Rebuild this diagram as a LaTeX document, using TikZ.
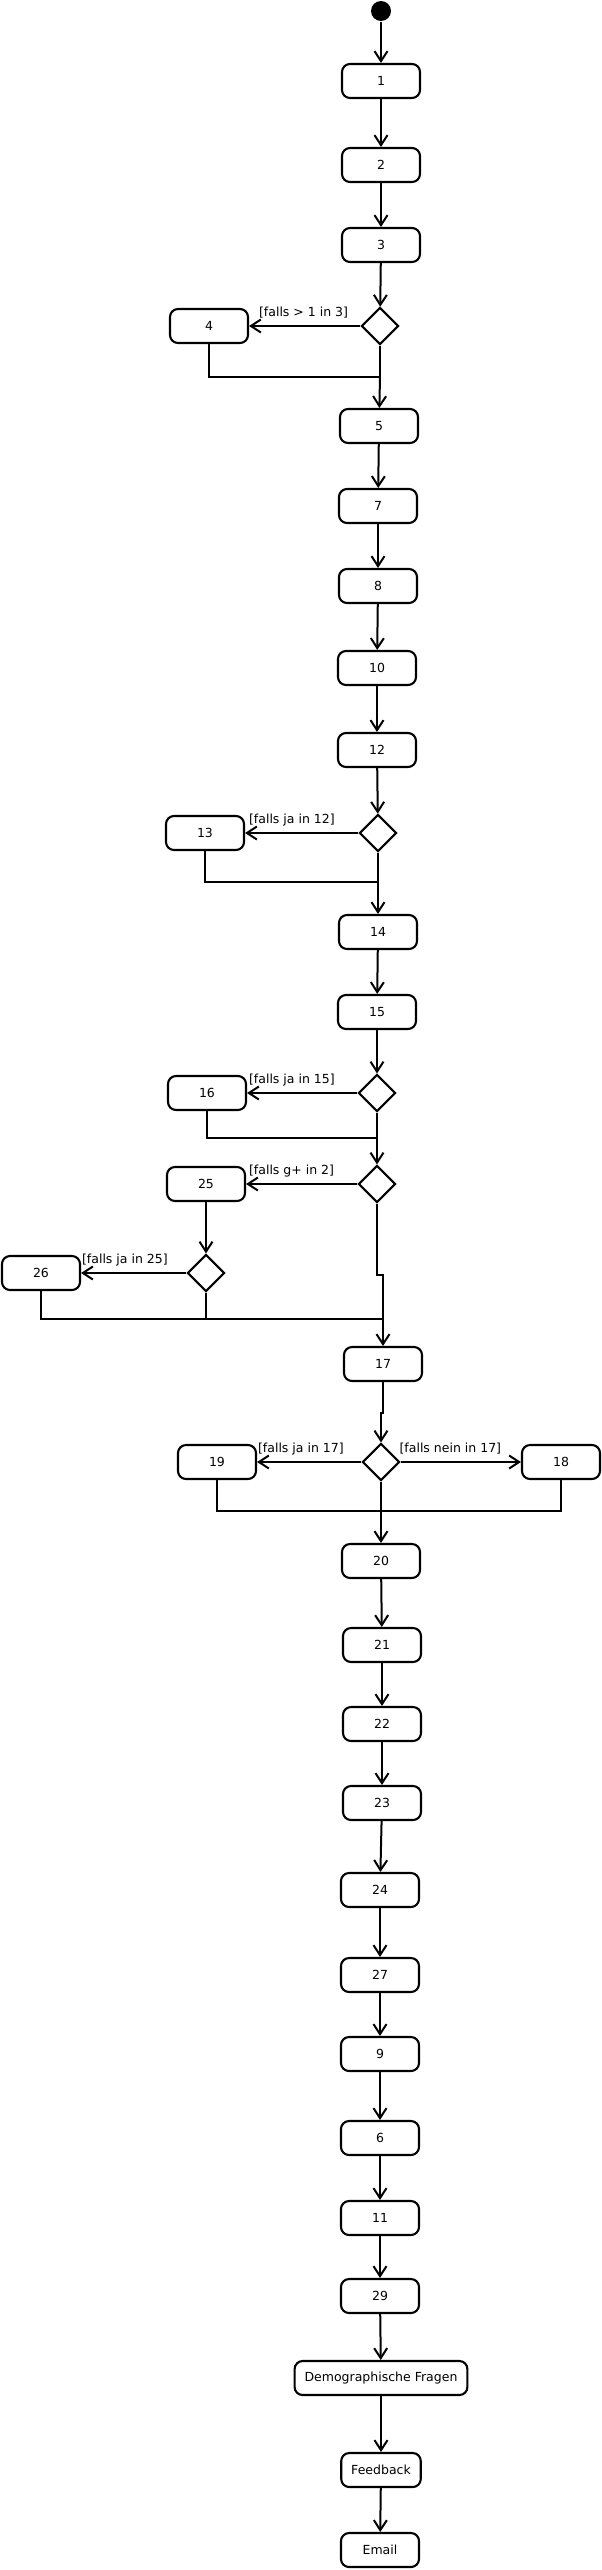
\documentclass[tikz,border=0pt]{standalone}
\usepackage{fontspec}
\setmainfont{DejaVu Sans}
\usetikzlibrary{arrows.meta}
\usetikzlibrary{shapes.geometric}

\begin{document}
\begin{tikzpicture}[x=1pt,y=-1pt,line width=2.1pt,
  >={Straight Barb[length=10pt,width=13pt]},
  activity/.style={draw,rounded corners=8pt,minimum width=78pt,minimum height=34pt,inner xsep=10pt,inner ysep=0pt,font=\fontsize{12.5pt}{15pt}\selectfont},
  choice/.style={draw,diamond,minimum width=37pt,minimum height=37pt,inner sep=0pt},
  guard/.style={anchor=base west,inner sep=0pt,font=\fontsize{12.5pt}{15pt}\selectfont},
  flow/.style={->,line width=2pt}]
\useasboundingbox (0,0) rectangle (602,2570);
\node[fill,circle,minimum size=20pt,inner sep=0pt] (start) at (381,11) {};
\node[activity] (n1) at (381,81) {1};
\node[activity] (n2) at (381,165) {2};
\node[activity] (n3) at (381,245) {3};
\node[choice] (d3) at (380,326) {};
\node[activity] (n4) at (209,326) {4};
\coordinate (j3) at (380,377);
\node[activity] (n5) at (379,426) {5};
\node[activity] (n7) at (378,506) {7};
\node[activity] (n8) at (378,586) {8};
\node[activity] (n10) at (377,668) {10};
\node[activity] (n12) at (377,750) {12};
\node[choice] (d12) at (378,833) {};
\node[activity] (n13) at (205,833) {13};
\coordinate (j12) at (378,882);
\node[activity] (n14) at (378,932) {14};
\node[activity] (n15) at (377,1012) {15};
\node[choice] (d15) at (377,1093) {};
\node[activity] (n16) at (207,1093) {16};
\coordinate (j15) at (377,1138);
\node[choice] (d2) at (377,1184) {};
\node[activity] (n25) at (206,1184) {25};
\node[choice] (d25) at (206,1273) {};
\node[activity] (n26) at (41,1273) {26};
\coordinate (k2) at (383,1275);
\coordinate (j25) at (383,1319);
\node[activity] (n17) at (383,1364) {17};
\coordinate (k17) at (381,1413);
\node[choice] (d17) at (381,1462) {};
\node[activity] (n19) at (217,1462) {19};
\node[activity] (n18) at (561,1462) {18};
\coordinate (j17) at (381,1511);
\node[activity] (n20) at (381,1561) {20};
\node[activity] (n21) at (382,1645) {21};
\node[activity] (n22) at (382,1724) {22};
\node[activity] (n23) at (382,1803) {23};
\node[activity] (n24) at (380,1890) {24};
\node[activity] (n27) at (380,1975) {27};
\node[activity] (n9) at (380,2054) {9};
\node[activity] (n6) at (380,2138) {6};
\node[activity] (n11) at (380,2218) {11};
\node[activity] (n29) at (380,2296) {29};
\node[activity] (demo) at (381,2378) {Demographische Fragen};
\node[activity] (feedback) at (381,2470) {Feedback};
\node[activity] (email) at (380,2550) {Email};

\node[guard] (g3) at ([xshift=9pt,yshift=10pt]n4.east) {[falls > 1 in 3]};
\node[guard] (g12) at ([xshift=3pt,yshift=10pt]n13.east) {[falls ja in 12]};
\node[guard] (g15) at ([xshift=1pt,yshift=10pt]n16.east) {[falls ja in 15]};
\node[guard] (g2) at ([xshift=2pt,yshift=10pt]n25.east) {[falls g+ in 2]};
\node[guard] (g25) at ([xshift=0pt,yshift=10pt]n26.east) {[falls ja in 25]};
\node[guard] (g17a) at ([xshift=0pt,yshift=10pt]n19.east) {[falls ja in 17]};
\node[guard] (g17b) at ([xshift=-2pt,yshift=10pt]d17.east) {[falls nein in 17]};

\draw[flow] (start) -- (n1);
\draw[flow] (n1) -- (n2);
\draw[flow] (n2) -- (n3);
\draw[flow] (n3) -- (d3);
\draw[flow] (d3) -- (n4);
\draw (n4) |- (j3);
\draw (d3) -- (j3);
\draw[flow] (j3) -- (n5);
\draw[flow] (n5) -- (n7);
\draw[flow] (n7) -- (n8);
\draw[flow] (n8) -- (n10);
\draw[flow] (n10) -- (n12);
\draw[flow] (n12) -- (d12);
\draw[flow] (d12) -- (n13);
\draw (n13) |- (j12);
\draw (d12) -- (j12);
\draw[flow] (j12) -- (n14);
\draw[flow] (n14) -- (n15);
\draw[flow] (n15) -- (d15);
\draw[flow] (d15) -- (n16);
\draw (n16) |- (j15);
\draw (d15) -- (j15);
\draw[flow] (j15) -- (d2);
\draw[flow] (d2) -- (n25);
\draw[flow] (n25) -- (d25);
\draw[flow] (d25) -- (n26);
\draw (d2) |- (k2) -- (j25);
\draw (n26) |- (j25);
\draw (d25) -- (d25 |- j25);
\draw[flow] (j25) -- (n17);
\draw[flow] (n17) |- (k17) -- (d17);
\draw[flow] (d17) -- (n19);
\draw[flow] (d17) -- (n18);
\draw (n19) |- (j17);
\draw (n18) |- (j17);
\draw (d17) -- (j17);
\draw[flow] (j17) -- (n20);
\draw[flow] (n20) -- (n21);
\draw[flow] (n21) -- (n22);
\draw[flow] (n22) -- (n23);
\draw[flow] (n23) -- (n24);
\draw[flow] (n24) -- (n27);
\draw[flow] (n27) -- (n9);
\draw[flow] (n9) -- (n6);
\draw[flow] (n6) -- (n11);
\draw[flow] (n11) -- (n29);
\draw[flow] (n29) -- (demo);
\draw[flow] (demo) -- (feedback);
\draw[flow] (feedback) -- (email);
\end{tikzpicture}
\end{document}
